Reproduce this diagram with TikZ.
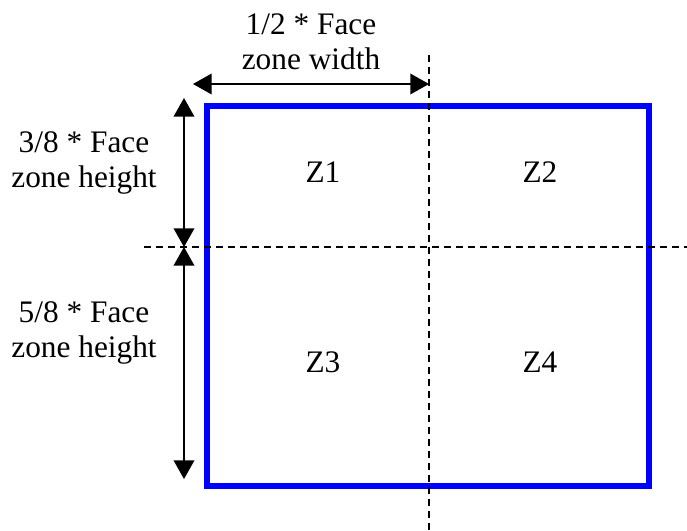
\documentclass[tikz,border=0pt]{standalone}
\usepackage{fontspec}
\setmainfont{Liberation Serif}
\usetikzlibrary{arrows.meta,positioning}

\begin{document}
\begin{tikzpicture}[
    x=0.75pt, y=-0.75pt,
    lbl/.style={font=\fontsize{23.5}{26.5}\selectfont, align=center, inner sep=0pt},
    zonebox/.style={draw=blue, line width=4pt, minimum width=331.5pt,
                    minimum height=285pt, inner sep=0pt},
    guide/.style={dash pattern=on 5.5pt off 3.5pt, line width=1.1pt},
    dim/.style={{Triangle[length=14pt,width=15.5pt]}-{Triangle[length=14pt,width=15.5pt]},
                line width=1.1pt},
  ]
  \useasboundingbox (0,0) rectangle (687,531);

  % Face zone
  \node[zonebox] (face) at (428,296) {};

  % Zone labels
  \foreach \name/\px/\py in {Z1/323/172, Z2/540/172, Z3/323/362, Z4/540/362} {
    \node[lbl] (\name) at (\px,\py) {\name};
  }

  % Split lines
  \coordinate (vtop) at (429,55);
  \coordinate (vbot) at (429,531);
  \coordinate (hleft) at (144,247);
  \coordinate (hright) at (687,247);
  \draw[guide] (vtop) -- (vbot);
  \draw[guide] (hleft) -- (hright);

  % Dimensions
  \coordinate (wl) at (193,84);
  \coordinate (wr) at (429,84);
  \coordinate (ht) at (184,98);
  \coordinate (hm) at (184,247);
  \coordinate (hb) at (184,479);
  \draw[dim] (wl) -- (wr);
  \draw[dim] (ht) -- (hm);
  \draw[dim] (hm) -- (hb);

  % Dimension labels
  \node[lbl] (wlabel) at (311,42) {1/2 * Face\\zone width};
  \node[lbl] (h1label) at (84,163) {3/8 * Face\\zone height};
  \node[lbl] (h2label) at (84,333) {5/8 * Face\\zone height};
\end{tikzpicture}
\end{document}
